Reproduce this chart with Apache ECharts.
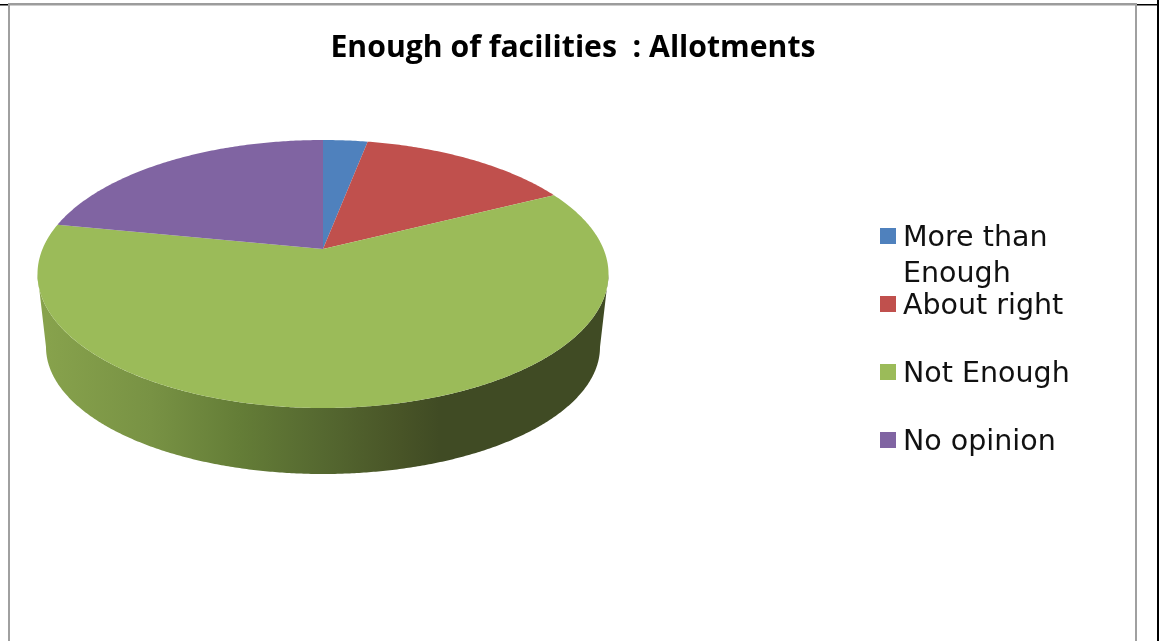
<!DOCTYPE html>
<html>
<head>
<meta charset="utf-8">
<style>html,body{margin:0;padding:0;background:#fff}#c{width:1160px;height:641px}</style>
<script src="https://cdn.jsdelivr.net/npm/echarts@6/dist/echarts.min.js"></script>
</head>
<body>
<div id="c"></div>
<script>
const chartTitle = 'Enough of facilities  : Allotments';
const categories = ['More than Enough', 'About right', 'Not Enough', 'No opinion'];
const legendLabels = ['More than\nEnough', 'About right', 'Not Enough', 'No opinion'];
const values = [2.5, 12.5, 66, 19];
const colors = ['#4f81bd', '#c0504d', '#9bbb59', '#8064a2'];

const TOP = {cx: 323, cy: 274, rx: 285.5, ry: 134, ax: 323, ay: 249};
const BOT = {cx: 323, cy: 347, rx: 277, ry: 127};
const total = values.reduce((a, b) => a + b, 0);
const sideFill = {
  type: 'linear', x: 46, y: 0, x2: 600, y2: 0, global: true,
  colorStops: [
    {offset: 0, color: '#87a24c'},
    {offset: 0.19, color: '#789244'},
    {offset: 0.35, color: '#647d37'},
    {offset: 0.5, color: '#556830'},
    {offset: 0.64, color: '#485427'},
    {offset: 0.71, color: '#404b24'},
    {offset: 1, color: '#404b24'}
  ]
};
function pt(e, deg) {
  const t = deg * Math.PI / 180;
  return [e.cx + e.rx * Math.sin(t), e.cy - e.ry * Math.cos(t)];
}
function arc(e, a, b) {
  const out = [], n = Math.max(2, Math.ceil(Math.abs(b - a) * 2));
  for (let i = 0; i <= n; i++) out.push(pt(e, a + (b - a) * i / n));
  return out;
}
function renderSlice(index) {
  return function (params, api) {
    const start = values.slice(0, index).reduce((a, b) => a + b, 0) / total * 360;
    const end = start + api.value(0) / total * 360;
    const children = [];
    const s0 = Math.max(start, 90), s1 = Math.min(end, 270);
    if (s1 > s0) {
      children.push({
        type: 'polygon',
        shape: {points: arc(TOP, s0, s1).concat(arc(BOT, s1, s0))},
        style: {fill: sideFill}
      });
    }
    children.push({
      type: 'polygon',
      shape: {points: [[TOP.ax, TOP.ay]].concat(arc(TOP, start, end))},
      style: {fill: colors[index]}
    });
    return {type: 'group', children};
  };
}
const iconFirst = 'path://M0 0L0 0ZM0 10H16V26H0ZM0 72L0 72Z';
const legendTops = [218, 286, 354, 422];
const option = {
  animation: false,
  backgroundColor: '#fff',
  title: {
    text: chartTitle, left: 573, top: 33, textAlign: 'center', padding: 0,
    textStyle: {fontFamily: 'Open Sans', fontWeight: 'bold', fontSize: 30.2, color: '#000'}
  },
  legend: categories.map((name, i) => ({
    data: [name], left: 880, top: legendTops[i], padding: 0,
    orient: 'vertical', selectedMode: false,
    itemWidth: 16, itemHeight: i === 0 ? 72 : 16,
    icon: i === 0 ? iconFirst : 'rect',
    formatter: () => '{t|' + legendLabels[i].split('\n').join('}\n{t|') + '}',
    textStyle: {
      fontFamily: 'DejaVu Sans', fontSize: 28.5, lineHeight: 36, color: '#111',
      rich: {t: {fontFamily: 'DejaVu Sans', fontSize: 28.5, lineHeight: 36, color: '#111', padding: [5, 0, 0, 2]}}
    }
  })),
  graphic: [
    {type: 'rect', silent: true, shape: {x: 8, y: 3, width: 1128, height: 2.5}, style: {fill: '#9c9c9c'}},
    {type: 'rect', silent: true, shape: {x: 8, y: 3, width: 2, height: 638}, style: {fill: '#a0a0a0'}},
    {type: 'rect', silent: true, shape: {x: 1135, y: 3, width: 2, height: 638}, style: {fill: '#a0a0a0'}},
    {type: 'rect', silent: true, shape: {x: 0, y: 4, width: 8, height: 1.5}, style: {fill: '#000'}},
    {type: 'rect', silent: true, shape: {x: 1137, y: 4, width: 21, height: 1.5}, style: {fill: '#000'}},
    {type: 'rect', silent: true, shape: {x: 1157, y: 0, width: 2, height: 641}, style: {fill: '#000'}}
  ],
  series: categories.map((name, i) => ({
    type: 'custom', name, coordinateSystem: 'none',
    itemStyle: {color: colors[i]},
    data: [[values[i]]],
    renderItem: renderSlice(i),
    silent: true
  }))
};
echarts.init(document.getElementById('c')).setOption(option);
</script>
</body>
</html>
